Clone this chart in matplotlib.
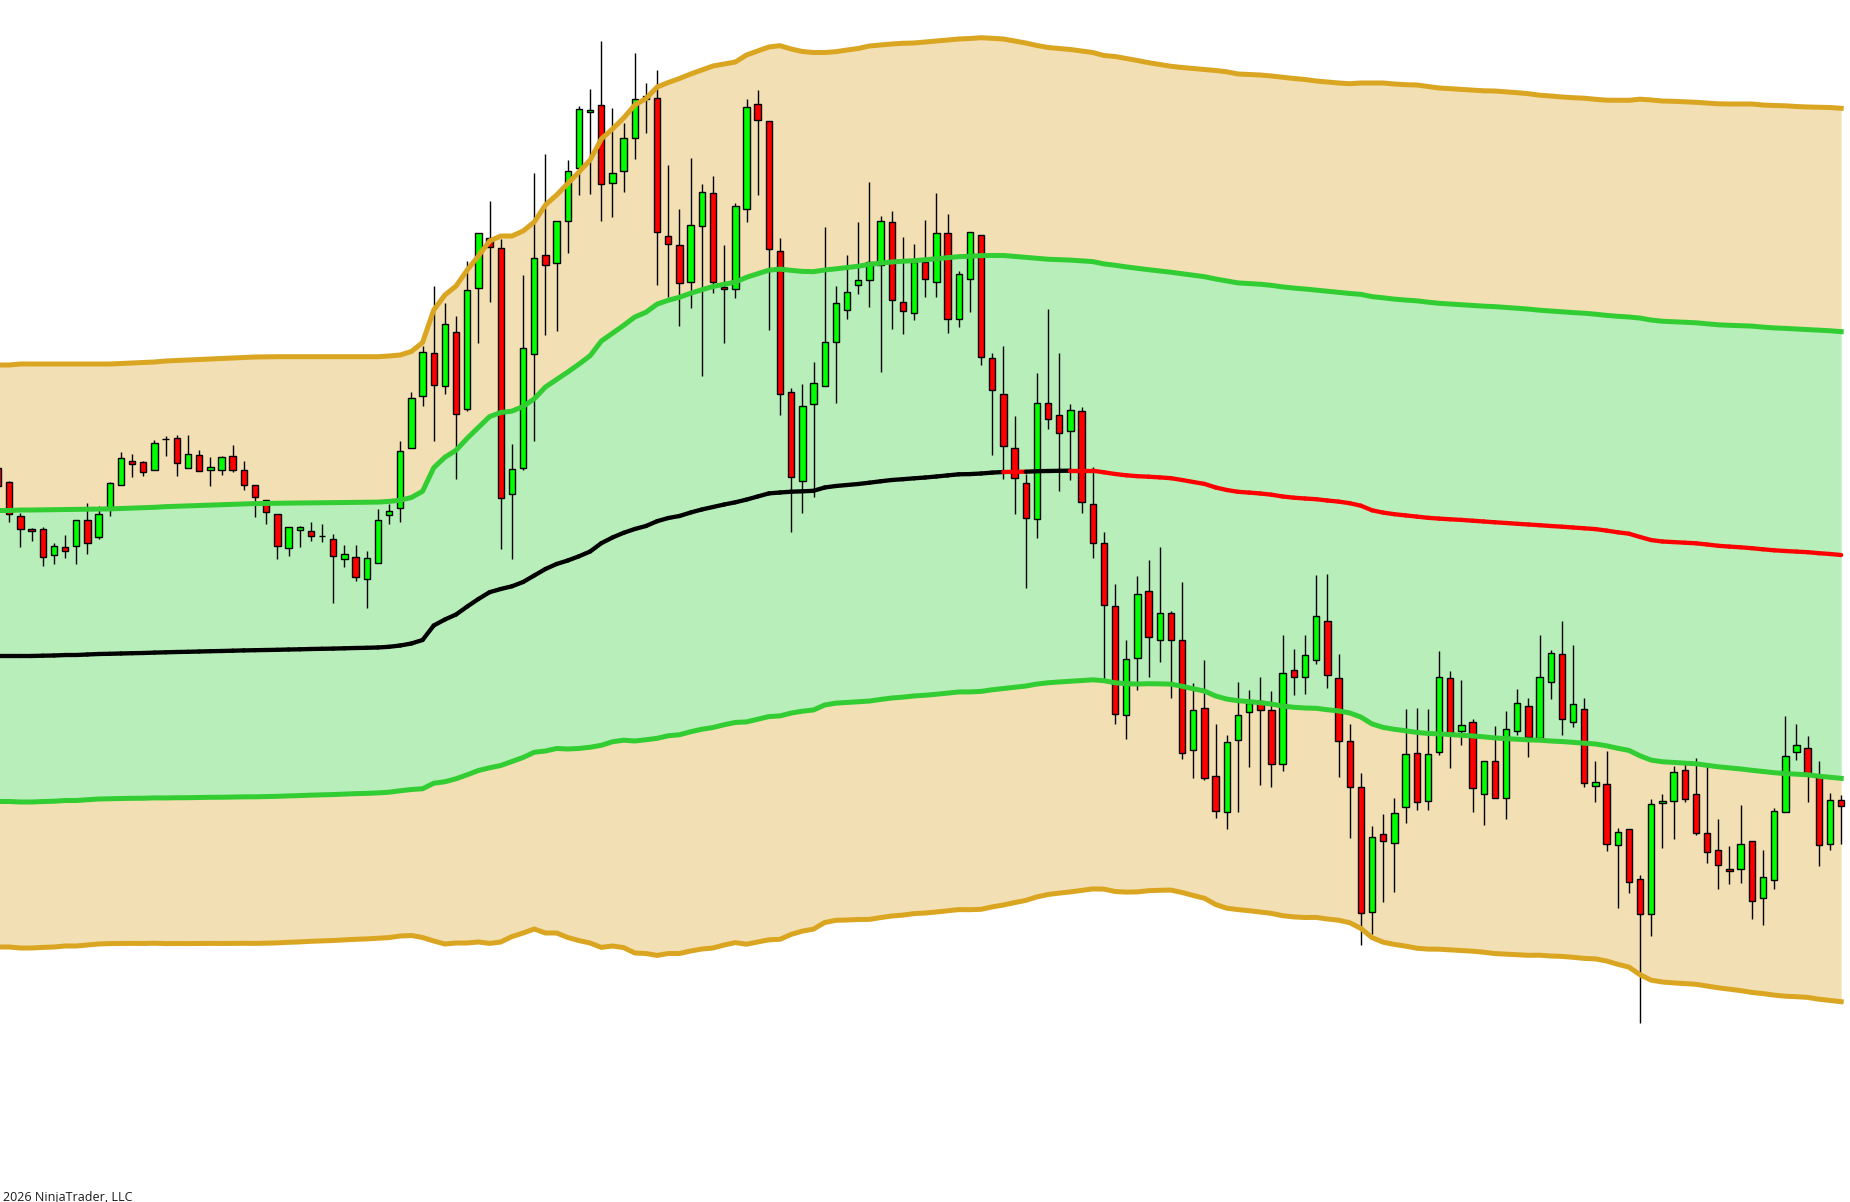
import numpy as np
import matplotlib
matplotlib.use("Agg")
import matplotlib.pyplot as plt
from matplotlib.collections import LineCollection

# All price levels were read off the reference chart as vertical positions
# (pixels measured from the top of the 1202 px tall chart); they are turned
# into price-like values (higher = higher price) with to_price() below.
CHART_H = 1202.0

open_lv = [468, 482.3, 516.3, 529, 529.3, 555.3, 547.3, 546.3, 520.3, 536.7,
           508.3, 485.3, 461.3, 462.3, 470.3, 439.3, 438.3, 468.3, 455.3, 469.7,
           470.3, 456.3, 470.3, 485.3, 500.3, 514.3, 548.3, 530.3, 531.3, 536.3,
           539.3, 559.3, 557.3, 579.3, 563.3, 515.3, 507.9, 447.9, 396.1, 353.2,
           386.4, 331.8, 409.3, 288.2, 238.2, 248.2, 494.3, 468.2, 354.3, 255.4,
           263.2, 221.4, 168.2, 112.1, 105.4, 183.2, 171.4, 138.2, 99, 97.9,
           236.3, 245.3, 282.3, 226.3, 193.3, 286.7, 289.3, 209.3, 104.3, 121.3,
           251.3, 392.3, 481.3, 404.3, 386.3, 342.3, 310.3, 285.3, 280.3, 265,
           222.3, 302.3, 313.3, 262, 282.3, 233.3, 319.3, 279.3, 235.3, 358.2,
           394.3, 447.5, 482.5, 519.3, 402.5, 415.4, 431.4, 411.4, 504.3, 543.2,
           606.4, 715.4, 658.2, 591.4, 640.4, 613.2, 640.4, 750.4, 708.3, 776.3,
           812.3, 740.3, 712.3, 701.3, 710.3, 764.3, 670.3, 677.3, 660.3, 621.3,
           678.3, 741.3, 787.3, 912.3, 834.3, 843.3, 807.3, 753.3, 801.3, 752.3,
           678.3, 731.3, 722.3, 794.3, 761.3, 798.3, 731.3, 706.3, 738.3, 682.3,
           654.3, 722.3, 709.3, 786.3, 784.3, 845.3, 829.3, 879.3, 914.3, 803.3,
           801.3, 770.3, 794.3, 833.3, 850.3, 869.3, 869.3, 841.3, 898.3, 880.3,
           812.3, 752.3, 748.3, 775.3, 844.3, 800.3]

close_lv = [486, 514.3, 529.3, 531.3, 557.3, 546.3, 551.3, 520.3, 543.3, 514.3,
            483.3, 458.3, 464.3, 472.3, 443.3, 439.3, 463.3, 454.3, 471.3, 467.3,
            457.3, 470.3, 485.3, 497.3, 512.3, 546.3, 527.3, 527.3, 536.3, 536.3,
            556.3, 554.3, 577.3, 558.3, 520.3, 511.3, 451.4, 397.9, 352.1, 385.4,
            323.6, 414.3, 290.4, 233.2, 246.8, 498.2, 469.3, 348.2, 258.2, 265.4,
            221.4, 171.4, 109.3, 110.4, 184.3, 172.5, 138.2, 99.3, 96, 231.8,
            244.3, 283.3, 225.3, 192.3, 282.3, 289.3, 206.3, 107.3, 120.3, 249.3,
            394.3, 477.3, 406.3, 383.3, 342.3, 303.3, 292.3, 280.3, 262, 221.3,
            300.3, 311.3, 262, 279.3, 233.3, 319.3, 274.3, 232.3, 357.3, 390.4,
            446.4, 478.2, 518.2, 402.5, 419.3, 433.2, 410.4, 502.1, 543.2, 604.6,
            714.3, 659.3, 594.3, 637.1, 613.2, 640.4, 753.2, 710.4, 778.3, 811.3,
            742.3, 715.3, 703, 710.3, 764.3, 673.3, 677.3, 655.3, 616.3, 675.3,
            741.3, 787.3, 913.3, 837.3, 841.3, 813.3, 754.3, 802.3, 754.3, 677.3,
            733, 725.3, 788.3, 761.3, 798.3, 729.3, 703.3, 737.3, 677.3, 653.3,
            719.3, 704.3, 783.3, 782.3, 844.3, 832.3, 882.3, 914.3, 804.3, 801.3,
            772.3, 799.3, 833.3, 852.3, 865.3, 871.3, 844.3, 901.3, 877.3, 811.3,
            756.3, 745.3, 775, 845.3, 800.3, 806.3]

high_lv = [462, 481, 512.7, 527.7, 527.3, 543, 535, 520.3, 503, 506.3,
           482, 452, 454, 461.3, 440, 436, 435, 435, 450.3, 457,
           456, 445, 461, 485.3, 500.3, 514.3, 527.3, 526.3, 522, 524,
           534.3, 545.3, 545.3, 551.3, 509.3, 504.3, 440.7, 391.8, 346, 286,
           303.2, 315.7, 261.4, 233.2, 201.1, 238.9, 443.9, 275, 172.9, 153.9,
           221.4, 160, 105.7, 88.9, 41.1, 107.9, 122.9, 53.2, 82.9, 70,
           165, 209.3, 158.3, 184.3, 176.3, 245, 203.3, 99, 90, 121.3,
           238.3, 388.3, 384.3, 362.3, 227.3, 286.3, 255.3, 222.3, 182.3, 216.3,
           211.3, 237.3, 244.3, 220.3, 193.3, 214.3, 271.3, 232.3, 235.3, 353.2,
           346.1, 416.1, 474.3, 373.2, 308.9, 352.5, 404.3, 407.1, 467.1, 532.1,
           583.9, 640, 576.1, 560, 547.1, 611.1, 582.1, 682.9, 660, 724,
           735.3, 682, 690, 677, 691, 635, 649.3, 635, 575, 574,
           654.3, 724, 773.3, 826.3, 814.3, 798.3, 709.3, 708.3, 709.3, 651.3,
           671.3, 680.3, 719.3, 761.3, 726.3, 711.3, 689.3, 698.3, 635, 650.3,
           621, 645.3, 698.3, 761.3, 751.3, 828.3, 829.3, 875.3, 799.3, 794.3,
           766.3, 762.3, 758.3, 763.3, 819.3, 846.3, 805.3, 841.3, 850.3, 808.3,
           716.3, 724.3, 736.3, 761.3, 793.3, 795.3]

low_lv = [490, 521.7, 546.7, 540.7, 565.7, 564, 557.7, 564, 554, 538.7,
          516, 485.3, 476.7, 475.7, 470.3, 455.7, 475.7, 468.3, 471.3, 485.7,
          474.7, 472.3, 489.7, 516.7, 523.7, 558.7, 555.7, 546.7, 540.7, 541.7,
          602.7, 566.7, 580.7, 607.7, 563.3, 523.7, 522.1, 447.9, 406.1, 441.4,
          393.6, 478.6, 411.4, 342.5, 301.8, 548.6, 558.6, 470.4, 440.7, 334.6,
          330.7, 252.5, 194.6, 193.6, 220.7, 216.8, 191.8, 158.6, 132.5, 284.6,
          296.7, 325.7, 307.7, 376.3, 293.3, 342.7, 297.7, 221.7, 194.7, 329.7,
          414.7, 532.3, 512.7, 497.3, 386.3, 403.3, 319.3, 294.3, 306.7, 372.3,
          329.3, 334.3, 320.3, 297.3, 297.3, 333.3, 327.3, 312.3, 365.3, 455.4,
          478.6, 513.6, 587.5, 537.5, 428.6, 490.7, 479.6, 512.5, 557.5, 678.6,
          723.9, 738.6, 689.6, 676.8, 661.8, 697.5, 758.6, 777.5, 779.7, 818.3,
          829.3, 812.3, 766.7, 784.7, 786.7, 771.3, 695.3, 693.7, 664.3, 688.3,
          776.7, 838.3, 945.3, 933.7, 901.7, 891.7, 823.3, 810.3, 810.3, 755.3,
          768.3, 745.3, 812.3, 825.3, 798.3, 819.3, 734.5, 756.7, 740, 698.7,
          734.7, 727.3, 787.3, 802.3, 851.3, 908.3, 893.3, 1022.7, 935.7, 847.7,
          838.7, 801.7, 834.7, 863.3, 888.7, 884.3, 882.7, 919.3, 925.3, 889.3,
          812.3, 759.7, 802.3, 866.3, 850.3, 844.3]

# centre line of the band indicator
mid_lv = [656, 656, 656, 656, 655.7, 655.5, 655, 655, 654.5, 654,
          653.8, 653.5, 653.2, 653, 652.6, 652.3, 652, 651.8, 651.5, 651.2,
          651, 650.7, 650.4, 650.2, 650, 649.8, 649.5, 649.3, 649, 648.8,
          648.6, 648.3, 648, 647.8, 647.5, 646.8, 645.5, 643.5, 640, 625.5,
          619.5, 614.5, 606.5, 599, 592.2, 589, 586.3, 582, 575.5, 569,
          564, 560.5, 556.3, 551.5, 543.2, 537.5, 532.8, 529, 526, 521.2,
          518, 516, 512.5, 509.5, 507, 504.5, 502.3, 499.6, 496.5, 493.4,
          492.5, 491.7, 491.3, 490.8, 487.5, 486, 485, 484, 482.7, 481.3,
          480, 479.2, 478.3, 477.5, 476.5, 475.4, 474.3, 474.1, 473.5, 472.6,
          472, 471.8, 471.7, 471.2, 471, 470.8, 470.7, 470.7, 470.7, 472.3,
          474, 475.3, 476.2, 476.7, 477.4, 478.2, 480, 482, 483.9, 487.5,
          490, 491.8, 492.6, 493.5, 494.7, 496.5, 497.7, 498.5, 499.2, 500.5,
          501.6, 503.2, 505.7, 510.3, 512.6, 514.2, 515.4, 516.6, 517.8, 518.6,
          519.3, 519.9, 520.7, 521.5, 522.3, 523, 523.8, 524.5, 525.2, 526,
          526.7, 527.5, 528.3, 529.1, 530.6, 532.3, 533.7, 537, 540.1, 541.5,
          542.1, 542.7, 543.3, 544.5, 545.8, 546.6, 547.3, 548.2, 549.3, 550.3,
          551, 551.6, 552.2, 553.2, 554, 555]

# outer (2 deviation) upper band
upper2_lv = [365, 365, 364, 364, 364, 364, 364, 364, 364, 364,
             364, 363.5, 363, 362.5, 362, 361, 360.5, 360, 359.5, 359,
             358.5, 358, 357.5, 357, 356.8, 356.7, 356.7, 356.7, 356.7, 356.7,
             356.7, 356.7, 356.7, 356.7, 356.7, 356, 355, 351.5, 342.5, 310,
             295, 286, 270, 256, 241, 236, 236, 231, 222, 205,
             195, 183.5, 172, 160, 139, 129, 118, 105, 98.5, 87,
             82.5, 78.5, 74, 70, 66, 64, 62, 55, 51, 47,
             45.7, 49, 51.5, 52.5, 52.5, 51.7, 50, 48.5, 46, 45,
             44, 43.3, 43, 42, 41, 40, 39, 38.5, 37.7, 38.3,
             39, 41, 43, 45.5, 47.5, 48.5, 49.5, 51, 52.5, 55.5,
             56.5, 58.5, 60.5, 62.7, 64.5, 66.3, 67.5, 68.5, 69.5, 70.5,
             71.8, 74, 74.5, 75, 76, 77.3, 78.5, 79.5, 81, 82,
             83, 83.7, 83, 83, 83, 84, 84.7, 85, 86.5, 88,
             88.7, 89.3, 90.2, 90.8, 91, 91.8, 92.7, 93.7, 95.2, 96,
             97, 97.7, 98.2, 99.3, 100.2, 100.3, 100.3, 99.2, 100, 101,
             101.3, 101.8, 102.3, 103, 103.8, 104, 104, 104, 105, 105.5,
             105.8, 106.5, 107, 107.2, 107.5, 108.3]

COPYRIGHT = "2026 NinjaTrader, LLC"


def to_price(levels):
    return CHART_H - np.asarray(levels, dtype=float)


o = to_price(open_lv)
c = to_price(close_lv)
h = to_price(high_lv)
l = to_price(low_lv)
mid = to_price(mid_lv)
up2 = to_price(upper2_lv)
n = len(o)
x = np.arange(n)

dev = (up2 - mid) / 2.0
up1 = mid + dev
lo1 = mid - dev
lo2 = mid - 2.0 * dev

TAN = "#F2DFB3"
LGREEN = "#B8EEBA"
GOLD = "#DAA520"
LIME = "#32CD32"
UP = "#00FF00"
DOWN = "#FF0000"

fig = plt.figure(figsize=(18.5, 12.02), dpi=100)
fig.patch.set_facecolor("white")
ax = fig.add_axes([0, 0, 1, 1])
ax.set_xlim(0.17, 165.79)
ax.set_ylim(0, CHART_H)
ax.axis("off")

# band fills
ax.fill_between(x, up1, up2, color=TAN, lw=0, zorder=1)
ax.fill_between(x, lo1, up1, color=LGREEN, lw=0, zorder=1)
ax.fill_between(x, lo2, lo1, color=TAN, lw=0, zorder=1)

# candles
ax.vlines(x, l, h, color="black", lw=1.0, zorder=2)
is_up = c >= o
body_col = np.where(is_up, UP, DOWN)
ax.bar(x, np.abs(c - o), bottom=np.minimum(o, c), width=0.57,
       color=body_col, edgecolor="black", linewidth=1.0, zorder=3)

# band lines
for arr in (up2, lo2):
    ax.plot(x, arr, color=GOLD, lw=3.6, zorder=4, solid_joinstyle="round")
for arr in (up1, lo1):
    ax.plot(x, arr, color=LIME, lw=3.6, zorder=4, solid_joinstyle="round")

# centre line: red where the close is under it, black otherwise
pts = np.column_stack([x, mid])
segs = np.stack([pts[:-1], pts[1:]], axis=1)
seg_colors = ["#FF0000" if c[i + 1] < mid[i + 1] else "#000000" for i in range(n - 1)]
lc = LineCollection(segs, colors=seg_colors, linewidths=3.1, zorder=5,
                    capstyle="round")
ax.add_collection(lc)

fig.text(3 / 1850, 1.5 / 1202, COPYRIGHT, fontsize=9, family=["Open Sans", "DejaVu Sans"],
         color="#1a1a1a", ha="left", va="baseline")

fig.savefig("out.png", dpi=100, facecolor="white")
